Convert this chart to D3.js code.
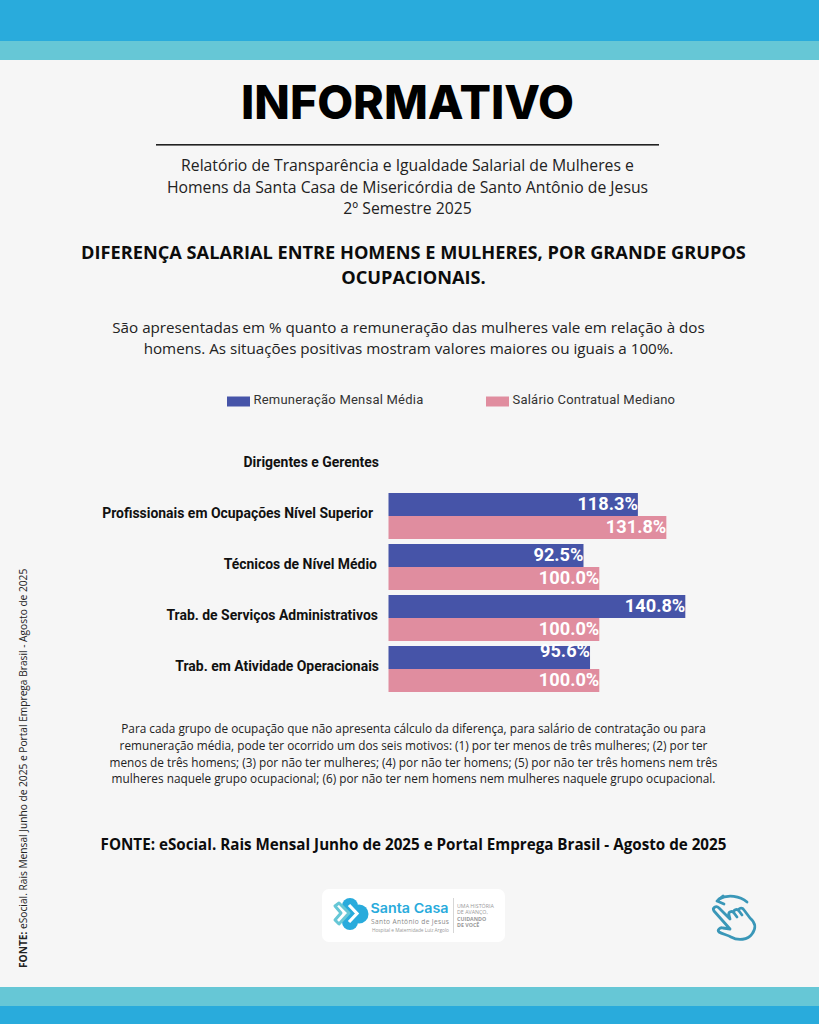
<!DOCTYPE html>
<html><head><meta charset="utf-8">
<script src="https://cdn.jsdelivr.net/npm/d3@7/dist/d3.min.js"></script>
<style>html,body{margin:0;padding:0;background:#f6f6f6}svg{display:block}text{font-family:"Open Sans",sans-serif}</style>
</head><body><svg id="c" width="819" height="1024"></svg>
<script>
const categories=["Dirigentes e Gerentes","Profissionais em Ocupações Nível Superior","Técnicos de Nível Médio","Trab. de Serviços Administrativos","Trab. em Atividade Operacionais"];
const seriesNames=["Remuneração Mensal Média","Salário Contratual Mediano"];
const remuneracao=[null,118.3,92.5,140.8,95.6];
const salario=[null,131.8,100.0,100.0,100.0];
const subtitleLines=["Relatório de Transparência e Igualdade Salarial de Mulheres e","Homens da Santa Casa de Misericórdia de Santo Antônio de Jesus","2º Semestre 2025"];
const headingLines=["DIFERENÇA SALARIAL ENTRE HOMENS E MULHERES, POR GRANDE GRUPOS","OCUPACIONAIS."];
const introLines=["São apresentadas em % quanto a remuneração das mulheres vale em relação à dos","homens. As situações positivas mostram valores maiores ou iguais a 100%."];
const noteLines=["Para cada grupo de ocupação que não apresenta cálculo da diferença, para salário de contratação ou para","remuneração média, pode ter ocorrido um dos seis motivos: (1) por ter menos de três mulheres; (2) por ter","menos de três homens; (3) por não ter mulheres; (4) por não ter homens; (5) por não ter três homens nem três","mulheres naquele grupo ocupacional; (6) por não ter nem homens nem mulheres naquele grupo ocupacional."];
const sourceText="FONTE: eSocial. Rais Mensal Junho de 2025 e Portal Emprega Brasil - Agosto de 2025";

const svg=d3.select("#c");
const W=819,cx=407.5;
const BLUE="#29abdc",TEAL="#66c7d6",NAVY="#4654a8",PINK="#e08d9f";
const rect=(x,y,w,h,f,extra={})=>{const r=svg.append("rect").attr("x",x).attr("y",y).attr("width",w).attr("height",h).attr("fill",f);for(const k in extra)r.attr(k,extra[k]);return r;};
rect(0,0,W,41,BLUE);rect(0,41,W,19,TEAL);rect(0,987,W,19,TEAL);rect(0,1006,W,18,BLUE);

const block=(lines,y0,lh,size,weight,fill,x=cx)=>lines.forEach((t,i)=>svg.append("text").attr("x",x).attr("y",y0+i*lh).attr("text-anchor","middle").attr("font-size",size).attr("font-weight",weight).attr("fill",fill).text(t));

svg.append("text").attr("x",407.5).attr("y",118.5).attr("text-anchor","middle").attr("font-size",47).attr("font-weight",800).attr("fill","#000").style("font-family","Inter").attr("textLength",333).attr("lengthAdjust","spacingAndGlyphs").text("INFORMATIVO");
rect(156,144,503,1.6,"#222");
block(subtitleLines,171,21.7,15.76,400,"#222");
block(headingLines,259,24.5,18.2,700,"#0c0c0c",413.5);
block(introLines,333,21.3,15.2,400,"#222",408.5);
block(noteLines,733,16.8,11.8,400,"#222",413.5);
svg.append("text").attr("x",413.5).attr("y",850).attr("text-anchor","middle").attr("font-size",15.2).attr("font-weight",700).attr("fill","#0c0c0c").text(sourceText);
svg.append("text").attr("transform","translate(27,968) rotate(-90)").attr("font-size",10.18).attr("fill","#222").call(t=>{t.append("tspan").attr("font-weight",700).text(sourceText.slice(0,6));t.append("tspan").text(sourceText.slice(6));});

// legend
[[227,seriesNames[0],NAVY],[486,seriesNames[1],PINK]].forEach(([x,n,c])=>{
  rect(x,396.5,23,10,c);
  svg.append("text").attr("x",x+26.5).attr("y",404).attr("font-size",13).attr("fill","#333").style("font-family","Roboto").style("letter-spacing","0.22px").text(n);
});

// chart
const x=d3.scaleLinear().domain([0,100]).range([388.5,599.3]);
const y=d3.scaleBand().domain(categories).range([439.5,694.5]);
const sub=d3.scaleBand().domain(seriesNames).range([0,46]);
const barTop=c=>y(c)+y.bandwidth()/2-23;
const labelRight=[379,373,377,378,379],labelY=[467,518,569,620,671];
categories.forEach((c,i)=>svg.append("text").attr("x",labelRight[i]).attr("y",labelY[i]).attr("text-anchor","end").attr("font-size",13.95).attr("font-weight",700).attr("fill","#111").style("font-family","Roboto").text(c));
[[remuneracao,seriesNames[0],NAVY],[salario,seriesNames[1],PINK]].forEach(([vals,name,col])=>{
  categories.forEach((c,i)=>{
    const v=vals[i]; if(v==null)return;
    const top=barTop(c)+sub(name);
    svg.append("rect").attr("x",x(0)).attr("y",top).attr("width",x(v)-x(0)).attr("height",sub.bandwidth()).attr("fill",col);
    svg.append("text").attr("x",x(v)).attr("y",top+(name===seriesNames[0]&&i===4?11:17)).attr("text-anchor","end").attr("font-size",18.2).attr("font-weight",700).attr("fill","#fff").style("font-family","Roboto").text(d3.format(".1f")(v)+"%");
  });
});

// logo
rect(322,889,183,53,"#fff",{rx:7});
const g=svg.append("g");
[[350,906,8],[350,922,8],[359,914,9.5]].forEach(([a,b,r])=>g.append("circle").attr("cx",a).attr("cy",b).attr("r",r).attr("fill",BLUE));
g.append("path").attr("d","M335 906 L339 903 L349 913 L339 924 L335 920 L341 913 Z").attr("fill","#fff").attr("stroke",TEAL).attr("stroke-width",3).attr("stroke-linejoin","round");
g.append("path").attr("d","M349 905 L357 913.5 L349 922").attr("fill","none").attr("stroke","#fff").attr("stroke-width",3.2);
g.append("text").attr("x",370.5).attr("y",913).attr("font-size",13.5).attr("font-weight",600).attr("fill",BLUE).style("font-family","Inter").attr("textLength",78).attr("lengthAdjust","spacingAndGlyphs").text("Santa Casa");
g.append("text").attr("x",371).attr("y",923.5).attr("font-size",6.6).attr("fill","#8a8a8a").attr("textLength",78).text("Santo Antônio de Jesus");
g.append("text").attr("x",372).attr("y",931.5).attr("font-size",4.8).attr("fill","#999").attr("textLength",77).text("Hospital e Maternidade Luiz Argolo");
rect(453,898,.8,35,"#ccc");
[["UMA HISTÓRIA",907.5,400],["DE AVANÇO,",914,400],["CUIDANDO",920.5,700],["DE VOCÊ",927,700]].forEach(([t,yy,w])=>g.append("text").attr("x",457).attr("y",yy).attr("font-size",5.3).attr("font-weight",w).attr("fill","#999").text(t));

// hand icon
const h=svg.append("g").attr("fill","none").attr("stroke","#3a97b8").attr("stroke-width",2.8).attr("stroke-linecap","round").attr("stroke-linejoin","round");
h.append("path").attr("d","M747 902 C740 896 728 894 719 899");
h.append("path").attr("d","M723 896 L717 901 L724 904");
h.append("path").attr("d","M714 911 C712 908 716 905 719 908 L730 919 M730 919 L729 915 C728 912 732 910 734 913 L737 917 M734 913 C733 910 737 908 739 911 L742 915 M739 911 C738 908 742 907 744 910 L750 918 C756 923 756 929 752 934 C748 940 738 941 731 937 C728 935 722 934 719 932 C717 930 720 927 723 928 L730 929 L714 911");
</script></body></html>
